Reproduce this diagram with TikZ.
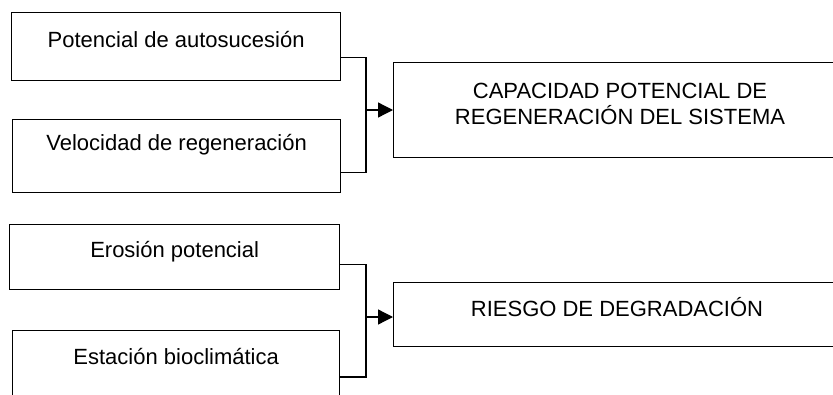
\documentclass[tikz,border=0pt]{standalone}
\usepackage{fontspec}
\setmainfont{Liberation Sans}
\usetikzlibrary{arrows.meta,calc}
\begin{document}
\begin{tikzpicture}[x=1pt,y=-1pt,
  box/.style={draw,line width=1.3pt,anchor=north west,inner sep=0pt},
  lbl/.style={font=\fontsize{22}{26.5}\selectfont,align=center,inner sep=0pt},
  conn/.style={line width=1.3pt},
  arr/.style={line width=1.3pt,-{Triangle[length=15pt,width=15pt]}}]
\useasboundingbox (0,0) rectangle (833,394);
\clip (0,0) rectangle (833,394);
% top group
\node[box,minimum width=329pt,minimum height=68pt] (b1) at (11,12) {};
\node[lbl] (t1) at ($(b1.north)+(0,28)$) {Potencial de autosucesión};
\node[box,minimum width=328pt,minimum height=73pt] (b2) at (12,119) {};
\node[lbl] (t2) at ($(b2.north)+(0,26)$) {Velocidad de regeneración};
\node[box,minimum width=520pt,minimum height=95pt] (b3) at (393,62) {};
\node[lbl] (t3) at (620,104) {CAPACIDAD POTENCIAL DE\\REGENERACIÓN DEL SISTEMA};
\coordinate (j1) at (366,110);
\draw[conn] ([yshift=-11pt]b1.east) -| (j1) |- ([yshift=-16pt]b2.east);
\draw[arr] (j1) -- (b3.west |- j1);
% bottom group
\node[box,minimum width=330pt,minimum height=65pt] (b4) at (9,224) {};
\node[lbl] (t4) at ($(b4.north)+(0,28)$) {Erosión potencial};
\node[box,minimum width=327pt,minimum height=90pt] (b5) at (12,330) {};
\node[lbl] (t5) at ($(b5.north)+(0,27)$) {Estación bioclimática};
\node[box,minimum width=520pt,minimum height=64pt] (b6) at (393,282) {};
\node[lbl] (t6) at (617,307.5) {RIESGO DE DEGRADACIÓN};
\coordinate (j2) at (366,317);
\draw[conn] ([yshift=-7.5pt]b4.east) -| (j2) |- (b5.north east |- 0,377);
\draw[arr] (j2) -- (b6.west |- j2);
\end{tikzpicture}
\end{document}
